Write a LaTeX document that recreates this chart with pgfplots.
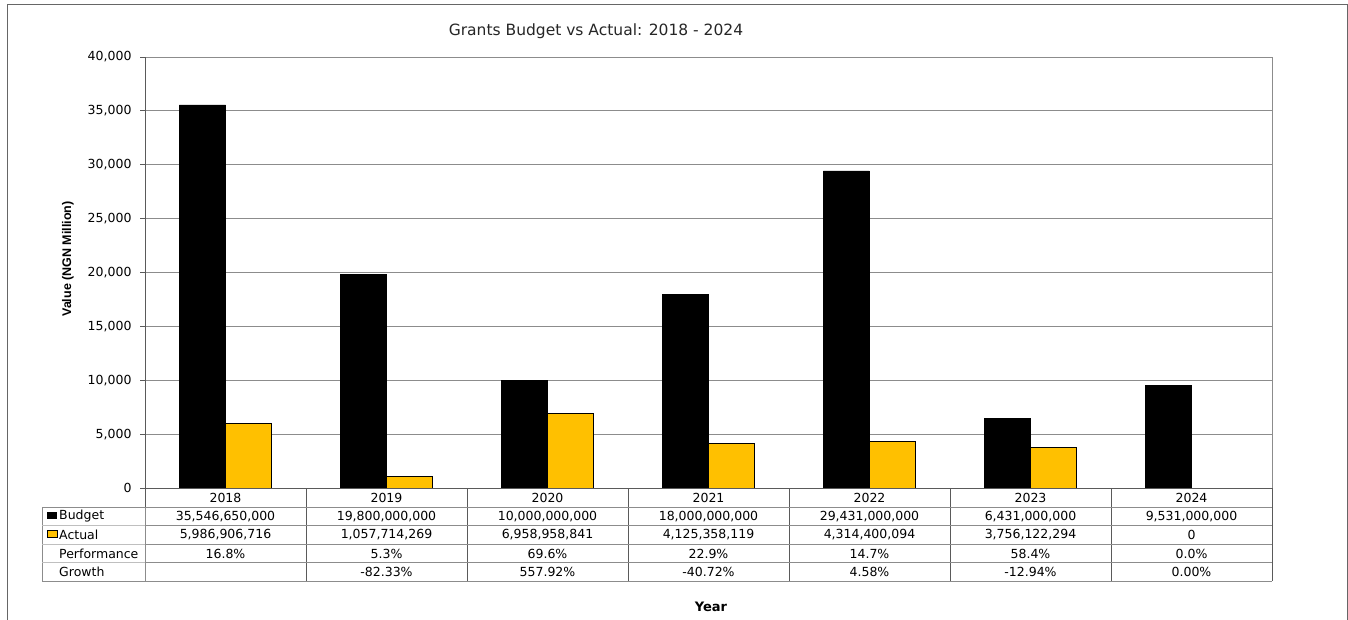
\documentclass[border=0pt]{standalone}
\usepackage{fontspec}
\setmainfont{DejaVu Sans}
\newfontfamily\labfont{Liberation Sans}
\usepackage{pgfplots}
\pgfplotsset{compat=1.18}
\definecolor{actualc}{RGB}{255,192,0}
\definecolor{gridc}{RGB}{140,140,140}
\definecolor{axisc}{RGB}{90,90,90}
\newcommand{\tf}{\fontsize{12.5}{14}\selectfont}
\begin{document}
\begin{tikzpicture}
\useasboundingbox (0pt,0pt) rectangle (1348pt,619pt);
\fill[white] (0pt,0pt) rectangle (1348pt,619pt);
\draw[gray!80!black, line width=1pt] (7pt,-20pt) -- (7pt,614pt) -- (1347pt,614pt) -- (1347pt,-20pt);
\begin{axis}[
  at={(145pt,131pt)}, anchor=south west,
  scale only axis, width=1127pt, height=431pt,
  xmin=-0.5, xmax=6.5, ymin=0, ymax=40000,
  ytick={0,5000,...,40000},
  scaled y ticks=false,
  xtick=\empty,
  ytick pos=left,
  ymajorgrids, grid style={gridc, line width=0.8pt},
  axis line style={draw=none},
  tick align=outside, major tick length=5pt,
  tick style={axisc, line width=0.8pt},
  ybar=0pt, bar width=46pt,
  yticklabel style={font=\tf, xshift=-5pt, /pgf/number format/fixed, /pgf/number format/1000 sep={,}},
  /pgf/number format/assume math mode=true,
  clip=false,
]
\addplot[fill=black, draw=black, line width=0.6pt] coordinates {(0,35546.65) (1,19800) (2,10000) (3,18000) (4,29431) (5,6431) (6,9531)};
\addplot[fill=actualc, draw=black, line width=0.6pt] coordinates {(0,5986.91) (1,1057.71) (2,6958.96) (3,4125.36) (4,4314.40) (5,3756.12) (6,0)};
\draw[gridc, line width=0.8pt] (rel axis cs:1,0) -- (rel axis cs:1,1);
\draw[axisc, line width=0.8pt] (rel axis cs:0,0) -- (rel axis cs:0,1);
\draw[axisc, line width=0.8pt] (rel axis cs:0,0) -- (rel axis cs:1,0);
\end{axis}
% title and axis labels
\node[font=\fontsize{15.5}{18}\selectfont, text=black!85] at (596pt,588pt) {Grants Budget vs Actual: 2018 - 2024};
\node[font=\labfont\fontsize{12.5}{14}\selectfont\bfseries, rotate=90] at (68pt,360pt) {Value (NGN Million)};
\node[font=\fontsize{13}{15}\selectfont\bfseries] at (711pt,12pt) {Year};
% data table
\foreach \k in {0,...,7} {
  \draw[axisc, line width=0.8pt] ({(145+161*\k)*1pt},131pt) -- ({(145+161*\k)*1pt},38pt);
}
\foreach \r in {112,93.5,75,56.5,38} {
  \draw[gridc, line width=0.8pt] (145pt,{\r*1pt}) -- (1272pt,{\r*1pt});
}
\draw[gridc, line width=0.8pt] (42pt,112pt) rectangle (145pt,38pt);
\foreach \r in {93.5,75,56.5} {
  \draw[gray!50, line width=0.8pt] (42pt,{\r*1pt}) -- (145pt,{\r*1pt});
}
\fill[black] (47pt,100pt) rectangle (57pt,107pt);
\filldraw[fill=actualc, draw=black, line width=0.6pt] (47pt,81.5pt) rectangle (57pt,88.5pt);
\node[font=\tf, anchor=west, inner sep=0pt] at (59pt,102.5pt) {Budget};
\node[font=\tf, anchor=west, inner sep=0pt] at (59pt,84pt) {Actual};
\node[font=\tf, anchor=west, inner sep=0pt] at (59pt,65.5pt) {Performance};
\node[font=\tf, anchor=west, inner sep=0pt] at (59pt,47pt) {Growth};
\foreach [count=\i from 0] \y/\b/\a/\p/\g in {
  2018/{35,546,650,000}/{5,986,906,716}/{16.8\%}/{},
  2019/{19,800,000,000}/{1,057,714,269}/{5.3\%}/{-82.33\%},
  2020/{10,000,000,000}/{6,958,958,841}/{69.6\%}/{557.92\%},
  2021/{18,000,000,000}/{4,125,358,119}/{22.9\%}/{-40.72\%},
  2022/{29,431,000,000}/{4,314,400,094}/{14.7\%}/{4.58\%},
  2023/{6,431,000,000}/{3,756,122,294}/{58.4\%}/{-12.94\%},
  2024/{9,531,000,000}/{0}/{0.0\%}/{0.00\%}} {
  \node[font=\tf, inner sep=0pt] at ({(225.5+161*\i)*1pt},121.5pt) {\y};
  \node[font=\tf, inner sep=0pt] at ({(225.5+161*\i)*1pt},102.5pt) {\b};
  \node[font=\tf, inner sep=0pt] at ({(225.5+161*\i)*1pt},84pt) {\a};
  \node[font=\tf, inner sep=0pt] at ({(225.5+161*\i)*1pt},65.5pt) {\p};
  \node[font=\tf, inner sep=0pt] at ({(225.5+161*\i)*1pt},47pt) {\g};
}
\end{tikzpicture}
\end{document}
